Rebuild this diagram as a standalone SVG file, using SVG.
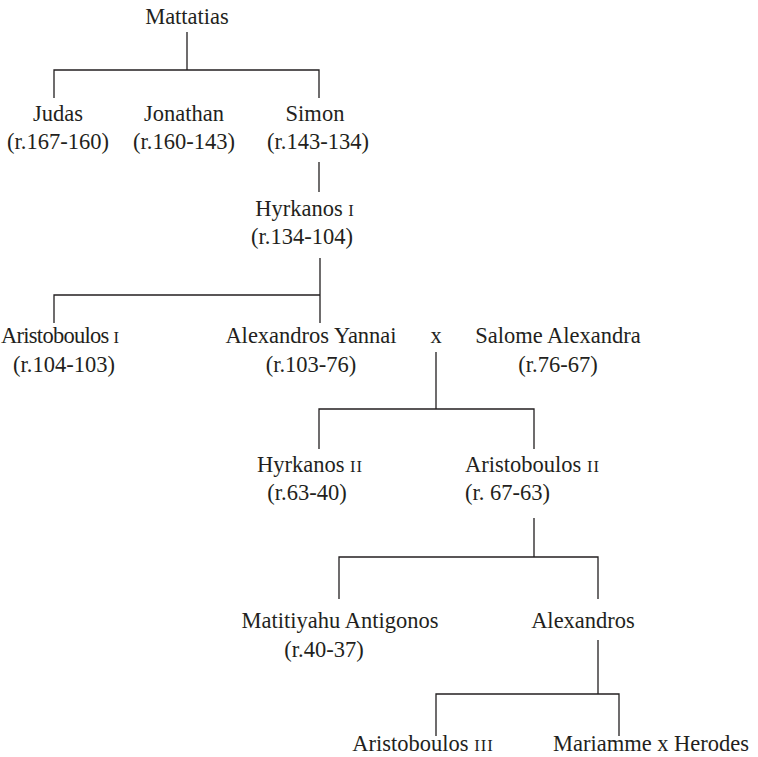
<svg xmlns="http://www.w3.org/2000/svg" width="758" height="757" viewBox="0 0 758 757">
  <style>
    text { font-family: "Liberation Serif", "DejaVu Serif", serif; font-size: 22.5px; fill: #231f20; }
    .c { text-anchor: middle; }
    .sc { font-size: 16.5px; letter-spacing: 1px; }
    #connectors path { fill: none; stroke: #231f20; stroke-width: 1.3; }
  </style>
  <rect width="758" height="757" fill="#ffffff"/>

  <g id="connectors">
    <path d="M187 32V70M54 98V70H319V98"/>
    <path d="M319 162V192"/>
    <path d="M320 258V323M54 323V295H320"/>
    <path d="M436 352V409M319 449V409H534V449"/>
    <path d="M534 518V557M339 599V557H598V599"/>
    <path d="M598 640V694M436 736V694H619V736"/>
  </g>

  <g id="mattatias"><text class="c" x="187" y="24">Mattatias</text></g>
  <g id="judas">
    <text class="c" x="58" y="121">Judas</text>
    <text class="c" x="58" y="149">(r.167-160)</text>
  </g>
  <g id="jonathan">
    <text class="c" x="184" y="121">Jonathan</text>
    <text class="c" x="184" y="149">(r.160-143)</text>
  </g>
  <g id="simon">
    <text class="c" x="315" y="121">Simon</text>
    <text class="c" x="318" y="149">(r.143-134)</text>
  </g>
  <g id="hyrkanos-1">
    <text class="c" x="305" y="216">Hyrkanos <tspan class="sc">I</tspan></text>
    <text class="c" x="302" y="244">(r.134-104)</text>
  </g>
  <g id="aristoboulos-1">
    <text x="1" y="343" textLength="119">Aristoboulos <tspan class="sc">I</tspan></text>
    <text class="c" x="64" y="372">(r.104-103)</text>
  </g>
  <g id="alexandros-yannai">
    <text class="c" x="311" y="343">Alexandros Yannai</text>
    <text class="c" x="311" y="372">(r.103-76)</text>
  </g>
  <g id="marriage-x"><text class="c" x="436" y="343">x</text></g>
  <g id="salome-alexandra">
    <text class="c" x="558" y="343">Salome Alexandra</text>
    <text class="c" x="558" y="372">(r.76-67)</text>
  </g>
  <g id="hyrkanos-2">
    <text class="c" x="310" y="472">Hyrkanos <tspan class="sc">II</tspan></text>
    <text class="c" x="307" y="500">(r.63-40)</text>
  </g>
  <g id="aristoboulos-2">
    <text x="465" y="472">Aristoboulos <tspan class="sc">II</tspan></text>
    <text x="465" y="500">(r. 67-63)</text>
  </g>
  <g id="antigonos">
    <text class="c" x="340" y="628">Matitiyahu Antigonos</text>
    <text class="c" x="324" y="657">(r.40-37)</text>
  </g>
  <g id="alexandros"><text class="c" x="583" y="628">Alexandros</text></g>
  <g id="aristoboulos-3"><text class="c" x="423" y="751">Aristoboulos <tspan class="sc">III</tspan></text></g>
  <g id="mariamme"><text class="c" x="651" y="751">Mariamme x Herodes</text></g>
</svg>
